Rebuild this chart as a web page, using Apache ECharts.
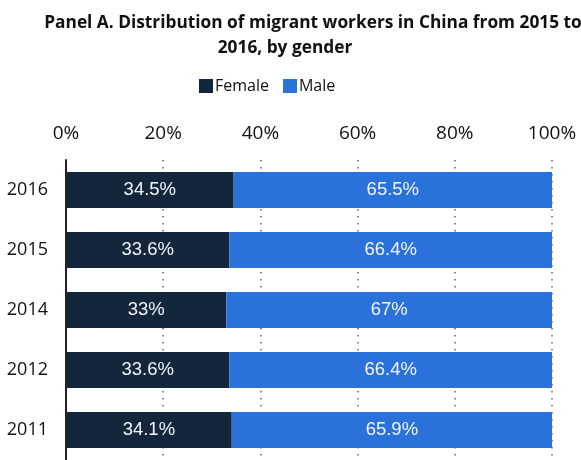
<!DOCTYPE html>
<html>
<head>
<meta charset="utf-8">
<script src="https://cdn.jsdelivr.net/npm/echarts@6/dist/echarts.min.js"></script>
<style>
  html, body { margin: 0; padding: 0; background: #ffffff; }
  #chart { width: 581px; height: 460px; }
</style>
</head>
<body>
<div id="chart"></div>
<script>
// Migrant workers in China by gender, share of total (%)
const years = ['2016', '2015', '2014', '2012', '2011'];
const female = [34.5, 33.6, 33, 33.6, 34.1];
const male = [65.5, 66.4, 67, 66.4, 65.9];
const seriesNames = ['Female', 'Male'];
const seriesColors = ['#13263c', '#2a72d9'];

const chart = echarts.init(document.getElementById('chart'));

const barLabel = {
  show: true,
  position: 'inside',
  color: '#f2f4f8',
  fontFamily: 'Liberation Sans, Arial, sans-serif',
  fontSize: 18.5,
  formatter: p => p.value + '%'
};

const titleStyle = { fontFamily: 'Open Sans', fontWeight: 'bold', fontSize: 17.3, color: '#111111' };

chart.setOption({
  animation: false,
  backgroundColor: '#ffffff',
  title: [
    {
      text: 'Panel A. Distribution of migrant workers in China from 2015 to',
      left: 308, top: 10, textAlign: 'center',
      textStyle: titleStyle
    },
    {
      text: '2016, by gender',
      left: 280, top: 35, textAlign: 'center',
      textStyle: titleStyle
    }
  ],
  legend: {
    data: seriesNames,
    top: 73,
    left: 194,
    itemWidth: 14,
    itemHeight: 14,
    itemGap: 14,
    icon: 'rect',
    textStyle: { fontFamily: 'Open Sans', fontSize: 16, color: '#111111', padding: [0, 0, 0, -3] }
  },
  grid: { left: 66, right: 29, top: 160, bottom: -2, containLabel: false },
  xAxis: {
    type: 'value',
    position: 'top',
    min: 0, max: 100, interval: 20,
    axisLine: { show: false },
    axisTick: { show: false },
    axisLabel: {
      formatter: '{value}%',
      fontFamily: 'Open Sans',
      fontSize: 19,
      color: '#111111',
      margin: 17
    },
    splitLine: {
      show: true,
      lineStyle: { color: '#666666', width: 1.5, type: [1.5, 5.5] }
    }
  },
  yAxis: {
    type: 'category',
    inverse: true,
    data: years,
    axisLine: { show: true, lineStyle: { color: '#222222', width: 2 } },
    axisTick: { show: false },
    axisLabel: { fontFamily: 'Open Sans', fontSize: 18, color: '#111111', margin: 18 }
  },
  series: [
    {
      name: seriesNames[0], type: 'bar', stack: 'total', data: female,
      barWidth: '60%', itemStyle: { color: seriesColors[0] }, label: barLabel, z: 3
    },
    {
      name: seriesNames[1], type: 'bar', stack: 'total', data: male,
      barWidth: '60%', itemStyle: { color: seriesColors[1] }, label: barLabel, z: 3
    }
  ]
});
</script>
</body>
</html>
